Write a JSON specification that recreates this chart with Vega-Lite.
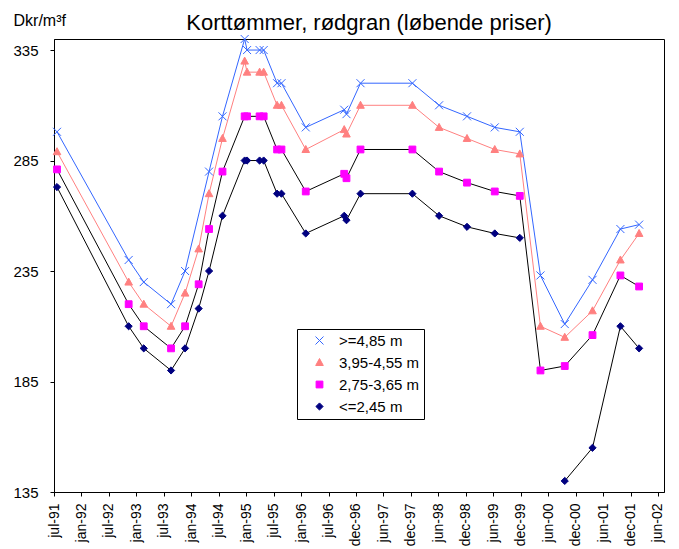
{
  "$schema": "https://vega.github.io/schema/vega-lite/v6.json",
  "width": 610,
  "height": 453,
  "autosize": {"type": "none"},
  "padding": {"left": 54, "top": 39, "right": 15, "bottom": 57},
  "background": "white",
  "config": {
    "font": "Liberation Sans",
    "view": {"stroke": "#000", "strokeWidth": 1},
    "axis": {"grid": false, "domainColor": "#000", "tickColor": "#000", "labelColor": "#000", "titleColor": "#000", "tickSize": 4, "domainWidth": 1},
    "legend": {
      "orient": "none",
      "legendX": 243,
      "legendY": 290,
      "strokeColor": "#000",
      "fillColor": "#fff",
      "padding": 4,
      "symbolSize": 64,
      "symbolOffset": 11,
      "symbolStrokeWidth": 1,
      "labelFontSize": 15,
      "labelOffset": 12,
      "labelColor": "#000",
      "rowPadding": 6
    }
  },
  "title": {
    "text": "Korttømmer, rødgran (løbende priser)",
    "font": "Liberation Sans",
    "fontSize": 22,
    "fontWeight": "normal",
    "color": "#000",
    "frame": "group",
    "anchor": "middle",
    "baseline": "alphabetic",
    "offset": -40,
    "dx": 10
  },
  "data": {
    "values": [
      {"date": "1991-07-28", "series": ">=4,85 m", "value": 298},
      {"date": "1991-07-28", "series": "3,95-4,55 m", "value": 289},
      {"date": "1991-07-28", "series": "2,75-3,65 m", "value": 281},
      {"date": "1991-07-28", "series": "<=2,45 m", "value": 273},
      {"date": "1992-11-14", "series": ">=4,85 m", "value": 240},
      {"date": "1992-11-14", "series": "3,95-4,55 m", "value": 230},
      {"date": "1992-11-14", "series": "2,75-3,65 m", "value": 220},
      {"date": "1992-11-14", "series": "<=2,45 m", "value": 210},
      {"date": "1993-02-22", "series": ">=4,85 m", "value": 230},
      {"date": "1993-02-22", "series": "3,95-4,55 m", "value": 220},
      {"date": "1993-02-22", "series": "2,75-3,65 m", "value": 210},
      {"date": "1993-02-22", "series": "<=2,45 m", "value": 200},
      {"date": "1993-08-22", "series": ">=4,85 m", "value": 220},
      {"date": "1993-08-22", "series": "3,95-4,55 m", "value": 210},
      {"date": "1993-08-22", "series": "2,75-3,65 m", "value": 200},
      {"date": "1993-08-22", "series": "<=2,45 m", "value": 190},
      {"date": "1993-11-23", "series": ">=4,85 m", "value": 235},
      {"date": "1993-11-23", "series": "3,95-4,55 m", "value": 225},
      {"date": "1993-11-23", "series": "2,75-3,65 m", "value": 210},
      {"date": "1993-11-23", "series": "<=2,45 m", "value": 200},
      {"date": "1994-02-21", "series": "3,95-4,55 m", "value": 245},
      {"date": "1994-02-21", "series": "2,75-3,65 m", "value": 229},
      {"date": "1994-02-21", "series": "<=2,45 m", "value": 218},
      {"date": "1994-05-01", "series": ">=4,85 m", "value": 280},
      {"date": "1994-05-01", "series": "3,95-4,55 m", "value": 270},
      {"date": "1994-05-01", "series": "2,75-3,65 m", "value": 254},
      {"date": "1994-05-01", "series": "<=2,45 m", "value": 235},
      {"date": "1994-07-29", "series": ">=4,85 m", "value": 305},
      {"date": "1994-07-29", "series": "3,95-4,55 m", "value": 295},
      {"date": "1994-07-29", "series": "2,75-3,65 m", "value": 280},
      {"date": "1994-07-29", "series": "<=2,45 m", "value": 260},
      {"date": "1994-12-23", "series": ">=4,85 m", "value": 340},
      {"date": "1994-12-23", "series": "3,95-4,55 m", "value": 330},
      {"date": "1994-12-23", "series": "2,75-3,65 m", "value": 305},
      {"date": "1994-12-23", "series": "<=2,45 m", "value": 285},
      {"date": "1995-01-08", "series": ">=4,85 m", "value": 335},
      {"date": "1995-01-08", "series": "3,95-4,55 m", "value": 325},
      {"date": "1995-01-08", "series": "2,75-3,65 m", "value": 305},
      {"date": "1995-01-08", "series": "<=2,45 m", "value": 285},
      {"date": "1995-04-01", "series": ">=4,85 m", "value": 335},
      {"date": "1995-04-01", "series": "3,95-4,55 m", "value": 325},
      {"date": "1995-04-01", "series": "2,75-3,65 m", "value": 305},
      {"date": "1995-04-01", "series": "<=2,45 m", "value": 285},
      {"date": "1995-04-28", "series": ">=4,85 m", "value": 335},
      {"date": "1995-04-28", "series": "3,95-4,55 m", "value": 325},
      {"date": "1995-04-28", "series": "2,75-3,65 m", "value": 305},
      {"date": "1995-04-28", "series": "<=2,45 m", "value": 285},
      {"date": "1995-07-26", "series": ">=4,85 m", "value": 320},
      {"date": "1995-07-26", "series": "3,95-4,55 m", "value": 310},
      {"date": "1995-07-26", "series": "2,75-3,65 m", "value": 290},
      {"date": "1995-07-26", "series": "<=2,45 m", "value": 270},
      {"date": "1995-08-24", "series": ">=4,85 m", "value": 320},
      {"date": "1995-08-24", "series": "3,95-4,55 m", "value": 310},
      {"date": "1995-08-24", "series": "2,75-3,65 m", "value": 290},
      {"date": "1995-08-24", "series": "<=2,45 m", "value": 270},
      {"date": "1996-02-01", "series": ">=4,85 m", "value": 300},
      {"date": "1996-02-01", "series": "3,95-4,55 m", "value": 290},
      {"date": "1996-02-01", "series": "2,75-3,65 m", "value": 271},
      {"date": "1996-02-01", "series": "<=2,45 m", "value": 252},
      {"date": "1996-10-13", "series": ">=4,85 m", "value": 308},
      {"date": "1996-10-13", "series": "3,95-4,55 m", "value": 299},
      {"date": "1996-10-13", "series": "2,75-3,65 m", "value": 279},
      {"date": "1996-10-13", "series": "<=2,45 m", "value": 260},
      {"date": "1996-10-28", "series": ">=4,85 m", "value": 306},
      {"date": "1996-10-28", "series": "3,95-4,55 m", "value": 297},
      {"date": "1996-10-28", "series": "2,75-3,65 m", "value": 277},
      {"date": "1996-10-28", "series": "<=2,45 m", "value": 258},
      {"date": "1997-01-29", "series": ">=4,85 m", "value": 320},
      {"date": "1997-01-29", "series": "3,95-4,55 m", "value": 310},
      {"date": "1997-01-29", "series": "2,75-3,65 m", "value": 290},
      {"date": "1997-01-29", "series": "<=2,45 m", "value": 270},
      {"date": "1998-01-08", "series": ">=4,85 m", "value": 320},
      {"date": "1998-01-08", "series": "3,95-4,55 m", "value": 310},
      {"date": "1998-01-08", "series": "2,75-3,65 m", "value": 290},
      {"date": "1998-01-08", "series": "<=2,45 m", "value": 270},
      {"date": "1998-07-04", "series": ">=4,85 m", "value": 310},
      {"date": "1998-07-04", "series": "3,95-4,55 m", "value": 300},
      {"date": "1998-07-04", "series": "2,75-3,65 m", "value": 280},
      {"date": "1998-07-04", "series": "<=2,45 m", "value": 260},
      {"date": "1999-01-05", "series": ">=4,85 m", "value": 305},
      {"date": "1999-01-05", "series": "3,95-4,55 m", "value": 295},
      {"date": "1999-01-05", "series": "2,75-3,65 m", "value": 275},
      {"date": "1999-01-05", "series": "<=2,45 m", "value": 255},
      {"date": "1999-07-08", "series": ">=4,85 m", "value": 300},
      {"date": "1999-07-08", "series": "3,95-4,55 m", "value": 290},
      {"date": "1999-07-08", "series": "2,75-3,65 m", "value": 271},
      {"date": "1999-07-08", "series": "<=2,45 m", "value": 252},
      {"date": "1999-12-21", "series": ">=4,85 m", "value": 298},
      {"date": "1999-12-21", "series": "3,95-4,55 m", "value": 288},
      {"date": "1999-12-21", "series": "2,75-3,65 m", "value": 269},
      {"date": "1999-12-21", "series": "<=2,45 m", "value": 250},
      {"date": "2000-05-06", "series": ">=4,85 m", "value": 233},
      {"date": "2000-05-06", "series": "3,95-4,55 m", "value": 210},
      {"date": "2000-05-06", "series": "2,75-3,65 m", "value": 190},
      {"date": "2000-05-06", "series": "<=2,45 m", "value": null},
      {"date": "2000-10-14", "series": ">=4,85 m", "value": 211},
      {"date": "2000-10-14", "series": "3,95-4,55 m", "value": 205},
      {"date": "2000-10-14", "series": "2,75-3,65 m", "value": 192},
      {"date": "2000-10-14", "series": "<=2,45 m", "value": 140},
      {"date": "2001-04-16", "series": ">=4,85 m", "value": 231},
      {"date": "2001-04-16", "series": "3,95-4,55 m", "value": 217},
      {"date": "2001-04-16", "series": "2,75-3,65 m", "value": 206},
      {"date": "2001-04-16", "series": "<=2,45 m", "value": 155},
      {"date": "2001-10-18", "series": ">=4,85 m", "value": 254},
      {"date": "2001-10-18", "series": "3,95-4,55 m", "value": 240},
      {"date": "2001-10-18", "series": "2,75-3,65 m", "value": 233},
      {"date": "2001-10-18", "series": "<=2,45 m", "value": 210},
      {"date": "2002-02-19", "series": ">=4,85 m", "value": 256},
      {"date": "2002-02-19", "series": "3,95-4,55 m", "value": 252},
      {"date": "2002-02-19", "series": "2,75-3,65 m", "value": 228},
      {"date": "2002-02-19", "series": "<=2,45 m", "value": 200}
    ]
  },
  "encoding": {
    "x": {
      "field": "date",
      "type": "temporal",
      "scale": {
        "type": "utc",
        "domain": [
          {"year": 1991, "month": 7, "date": 8, "utc": true},
          {"year": 2002, "month": 8, "date": 3, "utc": true}
        ]
      },
      "axis": {
        "title": null,
        "values": [
          {"year": 1991, "month": 7, "date": 8, "utc": true},
          {"year": 1992, "month": 1, "date": 6, "utc": true},
          {"year": 1992, "month": 7, "date": 6, "utc": true},
          {"year": 1993, "month": 1, "date": 4, "utc": true},
          {"year": 1993, "month": 7, "date": 5, "utc": true},
          {"year": 1994, "month": 1, "date": 3, "utc": true},
          {"year": 1994, "month": 7, "date": 4, "utc": true},
          {"year": 1995, "month": 1, "date": 2, "utc": true},
          {"year": 1995, "month": 7, "date": 3, "utc": true},
          {"year": 1996, "month": 1, "date": 1, "utc": true},
          {"year": 1996, "month": 7, "date": 1, "utc": true},
          {"year": 1996, "month": 12, "date": 30, "utc": true},
          {"year": 1997, "month": 6, "date": 30, "utc": true},
          {"year": 1997, "month": 12, "date": 29, "utc": true},
          {"year": 1998, "month": 6, "date": 29, "utc": true},
          {"year": 1998, "month": 12, "date": 28, "utc": true},
          {"year": 1999, "month": 6, "date": 28, "utc": true},
          {"year": 1999, "month": 12, "date": 27, "utc": true},
          {"year": 2000, "month": 6, "date": 26, "utc": true},
          {"year": 2000, "month": 12, "date": 25, "utc": true},
          {"year": 2001, "month": 6, "date": 25, "utc": true},
          {"year": 2001, "month": 12, "date": 24, "utc": true},
          {"year": 2002, "month": 6, "date": 24, "utc": true}
        ],
        "labelExpr": "lower(utcFormat(datum.value, '%b-%y'))",
        "labelAngle": -90,
        "labelFontSize": 14,
        "labelPadding": 7,
        "labelFlush": false,
        "labelOverlap": false
      }
    },
    "y": {
      "field": "value",
      "type": "quantitative",
      "scale": {"domain": [135, 340], "nice": false, "zero": false},
      "axis": {
        "values": [135, 185, 235, 285, 335],
        "labelFontSize": 15,
        "labelPadding": 12,
        "title": "Dkr/m³f",
        "titleAngle": 0,
        "titleAlign": "left",
        "titleBaseline": "alphabetic",
        "titleX": -41,
        "titleY": -14,
        "titleFontSize": 16,
        "titleFontWeight": "normal"
      }
    }
  },
  "layer": [
    {
      "mark": {"type": "line", "strokeWidth": 1, "invalid": "break-paths-filter-domains"},
      "encoding": {
        "color": {
          "field": "series",
          "type": "nominal",
          "scale": {
            "domain": ["<=2,45 m", "2,75-3,65 m", "3,95-4,55 m", ">=4,85 m"],
            "range": ["#000000", "#000000", "#FF8080", "#3366FF"]
          },
          "legend": null
        }
      }
    },
    {
      "mark": {"type": "point", "filled": true, "size": 64, "opacity": 1, "strokeWidth": 1, "invalid": "filter"},
      "encoding": {
        "shape": {
          "field": "series",
          "type": "nominal",
          "scale": {
            "domain": [">=4,85 m", "3,95-4,55 m", "2,75-3,65 m", "<=2,45 m"],
            "range": ["M-1,-1L1,1M-1,1L1,-1", "M0,-1L0.95,0.75L-0.95,0.75Z", "M-0.85,-0.85H0.85V0.85H-0.85Z", "M0,-0.9L0.9,0L0,0.9L-0.9,0Z"]
          },
          "legend": {"title": null}
        },
        "fill": {
          "field": "series",
          "type": "nominal",
          "scale": {
            "domain": [">=4,85 m", "3,95-4,55 m", "2,75-3,65 m", "<=2,45 m"],
            "range": ["transparent", "#FF8080", "#FF00FF", "#000080"]
          },
          "legend": {"title": null}
        },
        "stroke": {
          "field": "series",
          "type": "nominal",
          "scale": {
            "domain": [">=4,85 m", "3,95-4,55 m", "2,75-3,65 m", "<=2,45 m"],
            "range": ["#3366FF", "#FF8080", "#FF00FF", "#000080"]
          },
          "legend": {"title": null}
        }
      }
    }
  ]
}
